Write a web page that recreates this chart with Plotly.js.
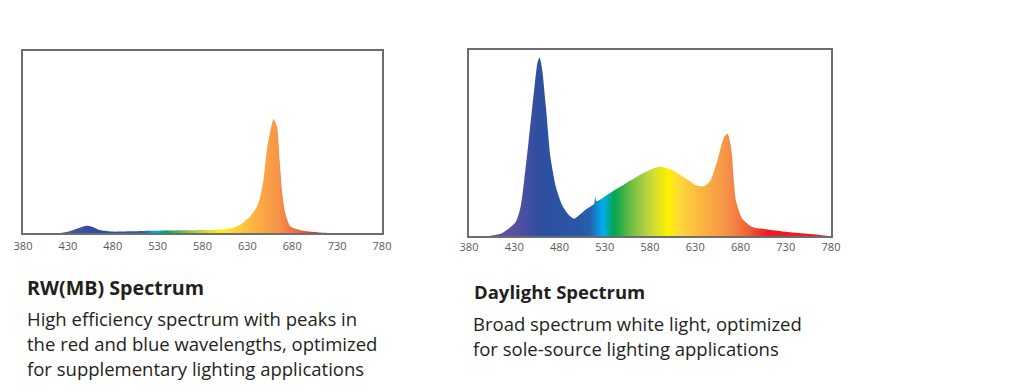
<!DOCTYPE html>
<html>
<head>
<meta charset="utf-8">
<script src="https://cdn.plot.ly/plotly-3.0.1.min.js"></script>
<style>html,body{margin:0;padding:0;background:#fff;}#chart{width:1024px;height:392px;}</style>
</head>
<body>
<div id="chart"></div>
<script>
// Tick labels (nm)
const tickValues = [380, 430, 480, 530, 580, 630, 680, 730, 780];

// RW(MB) spectrum (relative intensity)
const rwWavelength = [380, 421, 432, 444, 450.5, 457, 466, 477, 503, 522, 559, 596, 611, 622, 633, 640.7, 644.4, 648, 651.8, 655.5, 659.2, 663, 666, 668.5, 672.2, 677.8, 689, 707.5, 720, 780];
const rwValue      = [0,   0,   0.01, 0.03, 0.04, 0.035, 0.016, 0.008, 0.009, 0.012, 0.015, 0.018, 0.025, 0.046, 0.091, 0.146, 0.201, 0.293, 0.457, 0.56, 0.627, 0.585, 0.40, 0.238, 0.11, 0.037, 0.015, 0.004, 0, 0];

// Daylight spectrum (relative intensity)
const dlWavelength = [380, 402, 417, 431.6, 437, 441, 446, 452, 455.6, 458, 461, 465, 470, 476, 483, 490.6, 496, 501.7, 509, 516.4, 518.5, 519.4, 520.5, 522, 535, 553, 571.7, 590, 605, 619.7, 630.7, 640, 647, 654.7, 662, 665.8, 669.5, 675, 682, 693, 712, 730, 752, 774.5, 780];
const dlValue      = [0,   0,   0.016, 0.075, 0.156, 0.30, 0.515, 0.785, 0.93, 0.96, 0.89, 0.695, 0.425, 0.264, 0.165, 0.111, 0.093, 0.111, 0.142, 0.165, 0.175, 0.21, 0.19, 0.187, 0.228, 0.282, 0.336, 0.372, 0.354, 0.309, 0.273, 0.268, 0.30, 0.41, 0.533, 0.55, 0.48, 0.19, 0.093, 0.048, 0.034, 0.023, 0.013, 0.002, 0];

// Text
const titles = ["RW(MB) Spectrum", "Daylight Spectrum"];
const rwLines = ["High efficiency spectrum with peaks in", "the red and blue wavelengths, optimized", "for supplementary lighting applications"];
const dlLines = ["Broad spectrum white light, optimized", "for sole-source lighting applications"];

const spectrumScale = [
  [0.0, '#6b4b9c'], [0.125, '#5a50a2'], [0.19, '#2f4fa0'], [0.30, '#2a56a6'],
  [0.335, '#2562ad'], [0.37, '#00aeef'], [0.40, '#00a651'], [0.45, '#72bf44'],
  [0.50, '#c4d73e'], [0.55, '#fff200'], [0.58, '#fed93a'], [0.65, '#fbb040'],
  [0.71, '#f7944a'], [0.76, '#f26c3a'], [0.825, '#ed1c24'], [1.0, '#ed1c24']
];

function spectrumTrace(x, y, xa, ya) {
  return {
    x: x, y: y, xaxis: xa, yaxis: ya, type: 'scatter', mode: 'lines',
    line: {width: 0, shape: 'spline', smoothing: 0.6},
    fill: 'tozeroy',
    fillgradient: {type: 'horizontal', start: 380, stop: 780, colorscale: spectrumScale},
    hoverinfo: 'skip', showlegend: false
  };
}

const W = 1024, H = 392;
function px(x) { return x / W; }
function py(y) { return (H - y) / H; }

const FONT = '"Open Sans", Lato, sans-serif';

const axisCommon = {
  range: [380, 780], tickvals: tickValues, ticktext: tickValues.map(String),
  showgrid: false, zeroline: false, showline: true, mirror: true,
  linecolor: '#6d6e71', linewidth: 2, ticks: '',
  tickfont: {family: FONT, size: 11, color: '#58595b'},
  fixedrange: true
};
const yCommon = {
  range: [0, 1], showgrid: false, zeroline: false, showline: true, mirror: true,
  linecolor: '#6d6e71', linewidth: 2, showticklabels: false, ticks: '', fixedrange: true
};

const annotations = [];
function addText(text, xPix, yCenter, size, bold) {
  annotations.push({
    text: bold ? '<b>' + text + '</b>' : text,
    xref: 'paper', yref: 'paper', x: px(xPix), y: py(yCenter),
    xanchor: 'left', yanchor: 'middle', showarrow: false,
    font: {family: FONT, size: size, color: '#231f20'}
  });
}
addText(titles[0], 25, 287, 19.7, true);
addText(titles[1], 472, 291, 18.5, true);
rwLines.forEach((t, i) => addText(t, 25, 318 + 25 * i, 18.5, false));
dlLines.forEach((t, i) => addText(t, 471, 323 + 25 * i, 18.5, false));

const layout = {
  width: W, height: H, margin: {l: 0, r: 0, t: 0, b: 0},
  paper_bgcolor: '#ffffff', plot_bgcolor: '#ffffff', showlegend: false,
  xaxis: Object.assign({}, axisCommon, {domain: [px(23), px(382)], anchor: 'y', ticklabelstandoff: 2}),
  yaxis: Object.assign({}, yCommon, {domain: [py(233), py(51)], anchor: 'x'}),
  xaxis2: Object.assign({}, axisCommon, {domain: [px(469), px(831)], anchor: 'y2', ticklabelstandoff: 0}),
  yaxis2: Object.assign({}, yCommon, {domain: [py(236), py(50)], anchor: 'x2'}),
  annotations: annotations
};

Plotly.newPlot('chart', [
  spectrumTrace(rwWavelength, rwValue, 'x', 'y'),
  spectrumTrace(dlWavelength, dlValue, 'x2', 'y2')
], layout, {displayModeBar: false, staticPlot: true});
</script>
</body>
</html>
